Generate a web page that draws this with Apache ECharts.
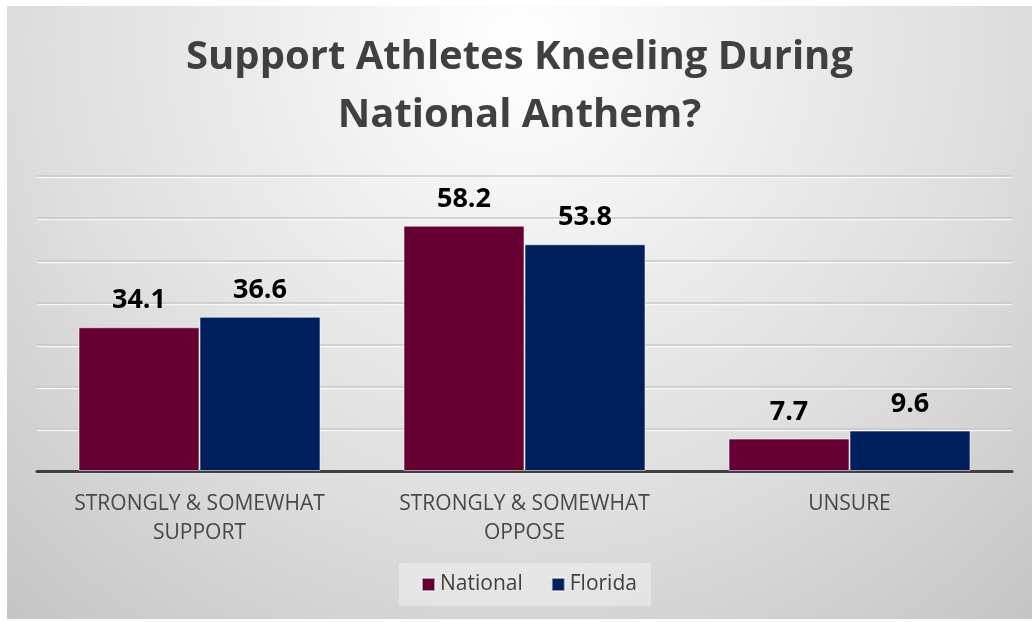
<!DOCTYPE html>
<html>
<head>
<meta charset="utf-8">
<script src="https://cdn.jsdelivr.net/npm/echarts@6/dist/echarts.min.js"></script>
<style>
  html, body { margin: 0; padding: 0; background: #ffffff; width: 1032px; height: 622px; overflow: hidden; }
  #chart { position: absolute; left: 7px; top: 6px; width: 1025px; height: 613px; }
</style>
</head>
<body>
<div id="chart"></div>
<script>
const titleText = 'Support Athletes Kneeling During\nNational Anthem?';
const categories = ['STRONGLY & SOMEWHAT\nSUPPORT', 'STRONGLY & SOMEWHAT\nOPPOSE', 'UNSURE'];
const seriesNames = ['National', 'Florida'];
const nationalValues = [34.1, 58.2, 7.7];
const floridaValues = [36.6, 53.8, 9.6];
const yMin = 0, yMax = 70, yInterval = 10;

const chart = echarts.init(document.getElementById('chart'), null, { renderer: 'canvas' });

const labelStyle = {
  show: true,
  position: 'top',
  distance: 13,
  fontFamily: 'Open Sans',
  fontWeight: 'bold',
  fontSize: 27,
  color: '#000000',
  formatter: p => p.value.toFixed(1)
};

chart.setOption({
  animation: false,
  backgroundColor: {
    type: 'radial', x: 0.5, y: 0.06, r: 1.3,
    colorStops: [
      { offset: 0, color: '#ffffff' },
      { offset: 0.35, color: '#ebebeb' },
      { offset: 0.6, color: '#dedede' },
      { offset: 0.8, color: '#d0d0d0' },
      { offset: 1, color: '#c3c3c3' }
    ]
  },
  title: {
    text: titleText,
    left: 'center',
    top: 18,
    textStyle: {
      fontFamily: 'Open Sans',
      fontWeight: 'bold',
      fontSize: 40,
      lineHeight: 58,
      color: '#404040'
    }
  },
  legend: {
    data: seriesNames,
    left: 392,
    top: 557,
    icon: 'rect',
    itemWidth: 13,
    itemHeight: 13,
    itemGap: 28,
    padding: [11, 14, 11, 22],
    backgroundColor: 'rgba(240,240,240,0.55)',
    textStyle: { fontFamily: 'Open Sans', fontSize: 21, color: '#404040' }
  },
  grid: { left: 30, right: 20, top: 170, bottom: 148, containLabel: false },
  xAxis: {
    type: 'category',
    data: categories,
    axisLine: { show: true, lineStyle: { color: '#404040', width: 3 } },
    axisTick: { show: false },
    axisLabel: {
      interval: 0,
      hideOverlap: false,
      margin: 19,
      fontFamily: 'Open Sans',
      fontSize: 21,
      lineHeight: 29,
      color: '#484848'
    }
  },
  yAxis: {
    type: 'value',
    min: yMin, max: yMax, interval: yInterval,
    axisLabel: { show: false },
    axisLine: { show: false },
    axisTick: { show: false },
    splitLine: {
      show: true,
      lineStyle: { color: '#c9c9c9', width: 1.5, shadowColor: 'rgba(250,250,250,0.9)', shadowOffsetY: 1.5, shadowBlur: 0 }
    }
  },
  series: [
    {
      name: seriesNames[0], type: 'bar', data: nationalValues,
      barWidth: 121, barGap: '0%',
      itemStyle: { color: '#660033', borderColor: 'rgba(255,255,255,0.55)', borderWidth: 1 },
      label: labelStyle
    },
    {
      name: seriesNames[1], type: 'bar', data: floridaValues,
      barWidth: 121, barGap: '0%',
      itemStyle: { color: '#001F5C', borderColor: 'rgba(255,255,255,0.55)', borderWidth: 1 },
      label: labelStyle
    }
  ]
});
</script>
</body>
</html>
